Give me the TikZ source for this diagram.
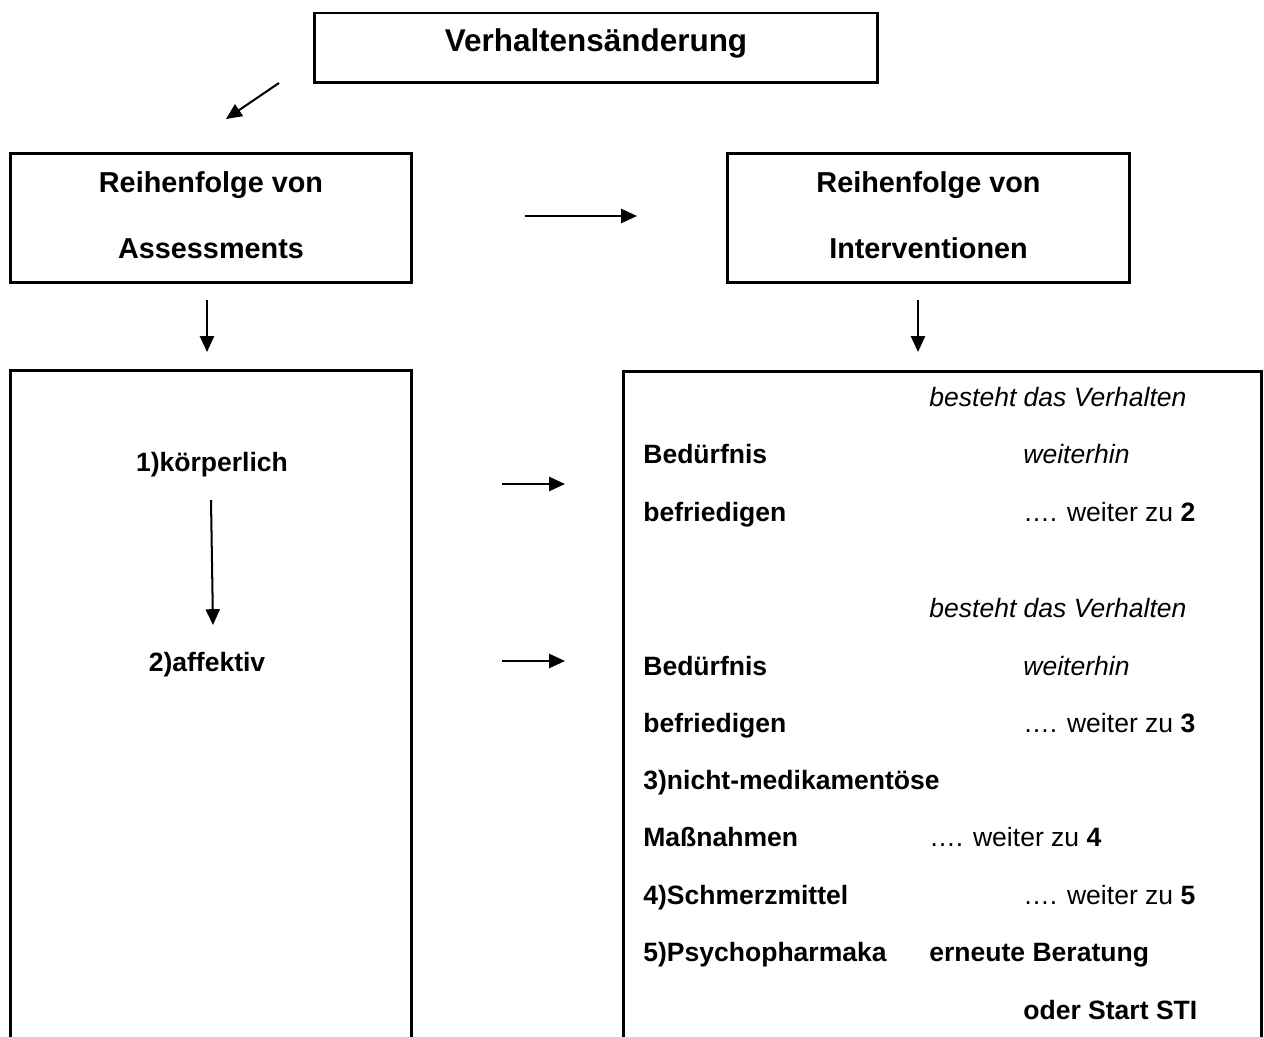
\documentclass[tikz,border=0pt]{standalone}
\usepackage{fontspec}
\setmainfont{Liberation Sans}
\usetikzlibrary{arrows.meta}

\begin{document}
\begin{tikzpicture}[x=0.02cm, y=-0.02cm,
    kasten/.style={draw, line width=1.7pt, inner sep=0pt},
    pfeil/.style={line width=1.15pt, -{Triangle[length=9pt, width=8pt]}},
    titel/.style={font=\bfseries\fontsize{17.9}{20}\selectfont, inner sep=0pt, anchor=base},
    kopf/.style={font=\bfseries\fontsize{16.4}{19}\selectfont, inner sep=0pt, anchor=base},
    fett/.style={font=\bfseries\fontsize{15.1}{18}\selectfont, inner sep=0pt, anchor=base west},
    schrift/.style={font=\fontsize{15.1}{18}\selectfont, inner sep=0pt, anchor=base west},
    kursiv/.style={font=\itshape\fontsize{15.1}{18}\selectfont, inner sep=0pt, anchor=base west}]
    \useasboundingbox (0,0) rectangle (1264,1037);
    \clip (0,0) rectangle (1264,1037);

    %Kasten oben
    \node[kasten, minimum width=11.26cm, minimum height=1.4cm] (aenderung) at (596,48) {};
    \node[titel] (aenderungtext) at (596,52) {Verhaltensänderung};

    %Kaesten Reihenfolge
    \node[kasten, minimum width=8.04cm, minimum height=2.6cm] (assess) at (211,218) {};
    \node[kopf] (assess1) at (211,193) {Reihenfolge von};
    \node[kopf] (assess2) at (211,258) {Assessments};
    \node[kasten, minimum width=8.06cm, minimum height=2.6cm] (interv) at (928.5,218) {};
    \node[kopf] (interv1) at (928.5,193) {Reihenfolge von};
    \node[kopf] (interv2) at (928.5,258) {Interventionen};

    %grosse Kaesten, unten offen
    \node[kasten, minimum width=8.04cm, minimum height=14.2cm] (assessliste) at (211,725) {};
    \node[kasten, minimum width=12.78cm, minimum height=14.2cm] (intervliste) at (942.5,726) {};

    %Pfeile
    \coordinate (d1) at (279,83);   \coordinate (d2) at (226,119);
    \coordinate (h1) at (525,216);  \coordinate (h2) at (637,216);
    \coordinate (la) at (207,300);  \coordinate (lb) at (207,352);
    \coordinate (ra) at (918,300);  \coordinate (rb) at (918,352);
    \coordinate (ka) at (211,500);  \coordinate (kb) at (213,625);
    \coordinate (q1) at (502,484);  \coordinate (q2) at (565,484);
    \coordinate (q3) at (502,661);  \coordinate (q4) at (565,661);
    \draw[pfeil] (d1) -- (d2);
    \draw[pfeil] (h1) -- (h2);
    \draw[pfeil] (la) -- (lb);
    \draw[pfeil] (ra) -- (rb);
    \draw[pfeil] (ka) -- (kb);
    \draw[pfeil] (q1) -- (q2);
    \draw[pfeil] (q3) -- (q4);

    %Assessments
    \node[fett, anchor=base] (koerper) at (212,471) {1)körperlich};
    \node[fett, anchor=base] (affekt) at (207,671) {2)affektiv};

    %Interventionen
    \node[kursiv] (verh1) at (929,406) {besteht das Verhalten};
    \node[fett] (bed1) at (643,463) {Bedürfnis};
    \node[kursiv] (weit1) at (1023,463) {weiterhin};
    \node[fett] (befr1) at (643,521) {befriedigen};
    \node[schrift] (zu2) at (1023,521) {…. weiter zu \textbf{2}};
    \node[kursiv] (verh2) at (929,617) {besteht das Verhalten};
    \node[fett] (bed2) at (643,675) {Bedürfnis};
    \node[kursiv] (weit2) at (1023,675) {weiterhin};
    \node[fett] (befr2) at (643,732) {befriedigen};
    \node[schrift] (zu3) at (1023,732) {…. weiter zu \textbf{3}};
    \node[fett] (nichtmed) at (643,789) {3)nicht-medikamentöse};
    \node[fett] (massn) at (643,846) {Maßnahmen};
    \node[schrift] (zu4) at (929,846) {…. weiter zu \textbf{4}};
    \node[fett] (schmerz) at (643,904) {4)Schmerzmittel};
    \node[schrift] (zu5) at (1023,904) {…. weiter zu \textbf{5}};
    \node[fett] (psycho) at (643,961) {5)Psychopharmaka};
    \node[fett] (beratung) at (929,961) {erneute Beratung};
    \node[fett] (sti) at (1023,1019) {oder Start STI};
\end{tikzpicture}
\end{document}
